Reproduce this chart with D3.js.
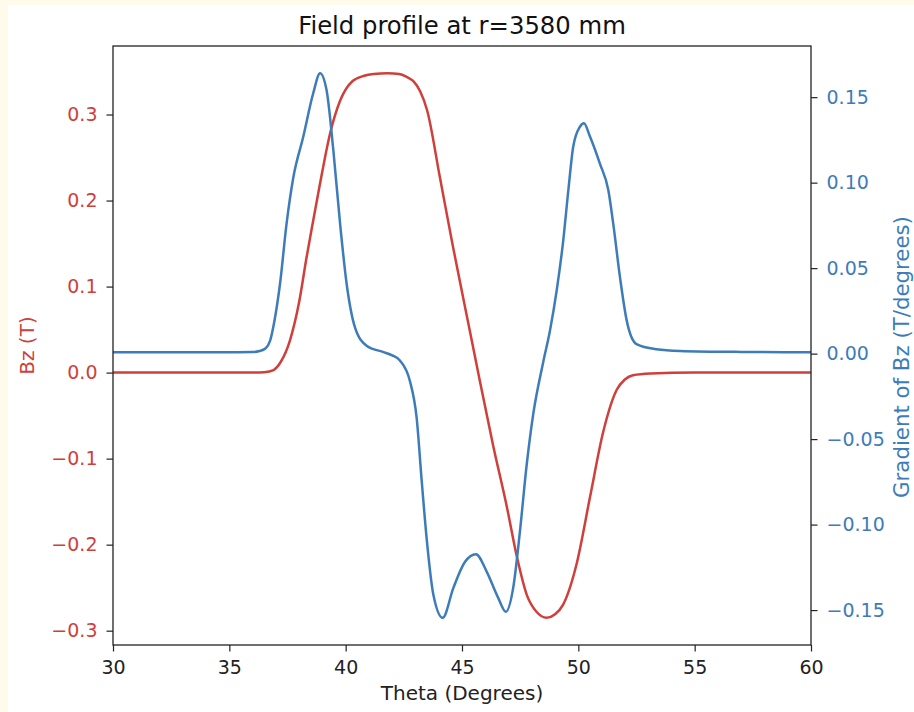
<!DOCTYPE html>
<html>
<head>
<meta charset="utf-8">
<script src="https://cdn.jsdelivr.net/npm/d3@7"></script>
<style>
  html, body { margin: 0; padding: 0; background: #fffbea; }
  svg { display: block; }
  text { font-family: "DejaVu Sans", sans-serif; }
</style>
</head>
<body>
<svg id="chart" width="914" height="712"></svg>
<script>
// Bz along the azimuth at r = 3580 mm
const bzTheta = [30, 33, 35, 36, 36.5, 36.9, 37.2, 37.6, 38.0, 38.32, 38.6, 38.9, 39.33, 39.76,
  40.3, 40.8, 41.2, 41.8, 42.3, 42.6, 42.9, 43.2, 43.5, 44.05, 44.6, 45.34, 45.77, 46.34,
  46.92, 47.35, 47.78, 48.2, 48.64, 49.0, 49.34, 49.92, 50.5, 51.06, 51.65, 52.0, 52.35,
  53.1, 55, 60];
const bzValues = [0, 0, 0, 0, 0.0005, 0.003, 0.012, 0.037, 0.082, 0.134, 0.176, 0.22, 0.278, 0.316,
  0.339, 0.345, 0.347, 0.348, 0.347, 0.344, 0.339, 0.327, 0.305, 0.227, 0.148, 0.048, -0.01, -0.085,
  -0.155, -0.213, -0.258, -0.278, -0.285, -0.281, -0.27, -0.223, -0.145, -0.07, -0.02, -0.008, -0.003,
  -0.001, 0, 0];

// dBz/dθ on its own grid
const gradTheta = [30, 33, 35, 36, 36.3, 36.55, 36.75, 36.95, 37.18, 37.46, 37.75, 38.18, 38.6, 38.9,
  39.18, 39.47, 39.76, 40.04, 40.4, 40.9, 41.6, 42.0, 42.33, 42.76, 43.05, 43.27, 43.48, 43.77,
  44.17, 44.63, 45.13, 45.6, 46.06, 46.56, 46.89, 47.2, 47.49, 47.78, 48.06, 48.49, 48.78, 49.07,
  49.35, 49.57, 49.78, 50.07, 50.24, 50.5, 50.93, 51.29, 51.5, 51.79, 52.08, 52.5, 53.36, 54.37, 57, 60];
const gradValues = [0.0008, 0.0008, 0.0008, 0.0009, 0.0015, 0.003, 0.0075, 0.02, 0.041, 0.076, 0.103, 0.127, 0.152, 0.164,
  0.154, 0.119, 0.076, 0.041, 0.0153, 0.0046, 0.001, -0.001, -0.004, -0.016, -0.0375, -0.0747, -0.108, -0.141,
  -0.1545, -0.137, -0.1217, -0.1173, -0.1275, -0.143, -0.151, -0.137, -0.104, -0.065, -0.0355, -0.005, 0.0134, 0.037,
  0.066, 0.0955, 0.121, 0.1327, 0.1347, 0.127, 0.111, 0.0955, 0.076, 0.0447, 0.0193, 0.0056, 0.0026, 0.0016, 0.001, 0.0008];

const xTicks = [30, 35, 40, 45, 50, 55, 60];
const bzTicks = [-0.3, -0.2, -0.1, 0.0, 0.1, 0.2, 0.3];
const gradTicks = [-0.15, -0.10, -0.05, 0.00, 0.05, 0.10, 0.15];

const titleText = "Field profile at r=3580 mm";
const xLabel = "Theta (Degrees)";
const bzLabel = "Bz (T)";
const gradLabel = "Gradient of Bz (T/degrees)";

const RED = "#cf3f3b";
const BLUE = "#3d7cb9";

const svg = d3.select("#chart");
const plot = { left: 113, right: 811, top: 46, bottom: 645 };

// figure background
svg.append("rect").attr("x", 8).attr("y", 5).attr("width", 914 - 8).attr("height", 712 - 5).attr("fill", "#ffffff");

// 5% padding around each series' range, as the plotting library would
function padded(vals) {
  const [lo, hi] = d3.extent(vals);
  const m = (hi - lo) * 0.05;
  return [lo - m, hi + m];
}

const x = d3.scaleLinear().domain([30, 60]).range([plot.left, plot.right]);
const yBz = d3.scaleLinear().domain(padded(bzValues)).range([plot.bottom, plot.top]);
const yGrad = d3.scaleLinear().domain(padded(gradValues)).range([plot.bottom, plot.top]);

const minusFmt = f => v => d3.format(f)(v).replace("-", "\u2212");

// curves
const bzData = bzTheta.map((t, i) => [t, bzValues[i]]);
const gradData = gradTheta.map((t, i) => [t, gradValues[i]]);

const lineBz = d3.line().x(d => x(d[0])).y(d => yBz(d[1])).curve(d3.curveMonotoneX);
const lineGrad = d3.line().x(d => x(d[0])).y(d => yGrad(d[1])).curve(d3.curveMonotoneX);

svg.append("defs").append("clipPath").attr("id", "plotclip")
  .append("rect").attr("x", plot.left).attr("y", plot.top)
  .attr("width", plot.right - plot.left).attr("height", plot.bottom - plot.top);

const g = svg.append("g").attr("clip-path", "url(#plotclip)");
g.append("path").datum(bzData).attr("d", lineBz)
  .attr("fill", "none").attr("stroke", RED).attr("stroke-width", 2.5).attr("stroke-linejoin", "round");
g.append("path").datum(gradData).attr("d", lineGrad)
  .attr("fill", "none").attr("stroke", BLUE).attr("stroke-width", 2.5).attr("stroke-linejoin", "round");

// axes
const fontTick = 19;
function styleAxis(sel, color) {
  sel.select(".domain").remove();
  sel.selectAll(".tick line").attr("stroke", "#222").attr("stroke-width", 1.2);
  sel.selectAll(".tick text").attr("fill", color).style("font-size", fontTick + "px")
    .style("font-family", "DejaVu Sans, sans-serif");
}

const xAxis = svg.append("g").attr("transform", `translate(0,${plot.bottom})`)
  .call(d3.axisBottom(x).tickValues(xTicks).tickFormat(d3.format("d")).tickSize(6.5).tickPadding(9));
styleAxis(xAxis, "#222");

const leftAxis = svg.append("g").attr("transform", `translate(${plot.left},0)`)
  .call(d3.axisLeft(yBz).tickValues(bzTicks).tickFormat(minusFmt(".1f")).tickSize(6.5).tickPadding(9));
styleAxis(leftAxis, RED);

const rightAxis = svg.append("g").attr("transform", `translate(${plot.right},0)`)
  .call(d3.axisRight(yGrad).tickValues(gradTicks).tickFormat(minusFmt(".2f")).tickSize(6.5).tickPadding(9));
styleAxis(rightAxis, BLUE);

// frame
svg.append("rect").attr("x", plot.left).attr("y", plot.top)
  .attr("width", plot.right - plot.left).attr("height", plot.bottom - plot.top)
  .attr("fill", "none").attr("stroke", "#222").attr("stroke-width", 1.3);

// labels
svg.append("text").attr("x", (plot.left + plot.right) / 2).attr("y", 34)
  .attr("text-anchor", "middle").style("font-size", "24.3px").attr("fill", "#111").text(titleText);

svg.append("text").attr("x", (plot.left + plot.right) / 2).attr("y", 700)
  .attr("text-anchor", "middle").style("font-size", "20px").attr("fill", "#222").text(xLabel);

svg.append("text").attr("transform", `translate(34,${(plot.top + plot.bottom) / 2}) rotate(-90)`)
  .attr("text-anchor", "middle").style("font-size", "20px").attr("fill", RED).text(bzLabel);

svg.append("text").attr("transform", `translate(909,357) rotate(-90)`)
  .attr("text-anchor", "middle").style("font-size", "21.3px").attr("fill", BLUE).text(gradLabel);
</script>
</body>
</html>
